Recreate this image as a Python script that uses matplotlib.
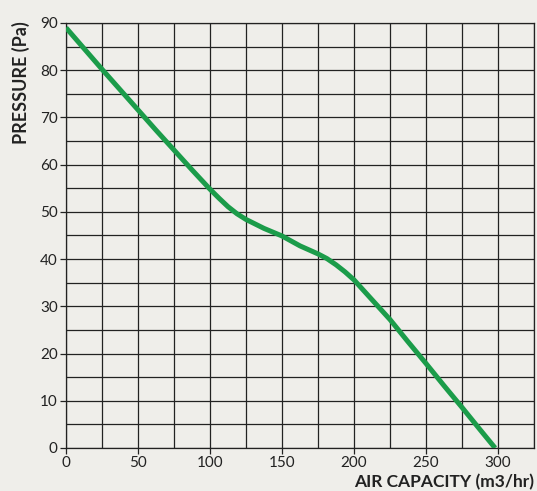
import matplotlib
matplotlib.use("Agg")
import matplotlib.pyplot as plt
from matplotlib.ticker import MultipleLocator

# air capacity (m3/hr) vs pressure (Pa)
air_capacity = [0, 12.5, 25, 37.5, 50, 62.5, 75, 87.5, 100, 106.25, 112.5,
                118.75, 125, 137.5, 150, 162.5, 175, 181.25, 187.5, 193.75,
                200, 212.5, 225, 237.5, 250, 262.5, 275, 287.5, 298]
pressure = [89, 84.6, 80.2, 75.9, 71.6, 67.3, 63.1, 58.9, 54.8, 52.9, 51.1,
            49.6, 48.4, 46.5, 44.9, 42.8, 41.1, 40.1, 38.8, 37.3,
            35.6, 31.4, 27.2, 22.5, 17.9, 13.2, 8.6, 3.9, 0]

x_ticks = [0, 50, 100, 150, 200, 250, 300]
y_ticks = [0, 10, 20, 30, 40, 50, 60, 70, 80, 90]

bg = "#efeeea"
green = "#1b9c4a"
ink = "#222222"

plt.rcParams['font.family'] = ['Lato', 'DejaVu Sans']

fig = plt.figure(figsize=(5.37, 4.91), dpi=100, facecolor=bg)
ax = fig.add_axes([0.1229, 0.0876, 0.8715, 0.8656])
ax.set_facecolor(bg)

ax.set_xlim(0, 325)
ax.set_ylim(0, 90)
ax.xaxis.set_minor_locator(MultipleLocator(25))
ax.yaxis.set_minor_locator(MultipleLocator(5))
ax.set_xticks(x_ticks)
ax.set_yticks(y_ticks)

ax.grid(which='both', color=ink, linewidth=0.9)
ax.set_axisbelow(True)
for s in ax.spines.values():
    s.set_color(ink)
    s.set_linewidth(0.9)

ax.tick_params(which='major', length=4, width=0.9, color=ink, labelcolor=ink,
               labelsize=11, pad=2)
ax.tick_params(which='minor', length=0)

ax.plot(air_capacity, pressure, color=green, linewidth=3.6,
        solid_capstyle='butt', solid_joinstyle='round', zorder=3)

fig.text(20.5 / 537, 1 - 21 / 491, 'PRESSURE (Pa)', rotation=90,
         ha='center', va='top', fontsize=13, fontweight='bold', color=ink)
fig.text(0.994, 0.001, 'AIR CAPACITY (m3/hr)', ha='right', va='bottom',
         fontsize=12.5, fontweight='bold', color=ink)

fig.savefig('out.png', dpi=100, facecolor=bg)
